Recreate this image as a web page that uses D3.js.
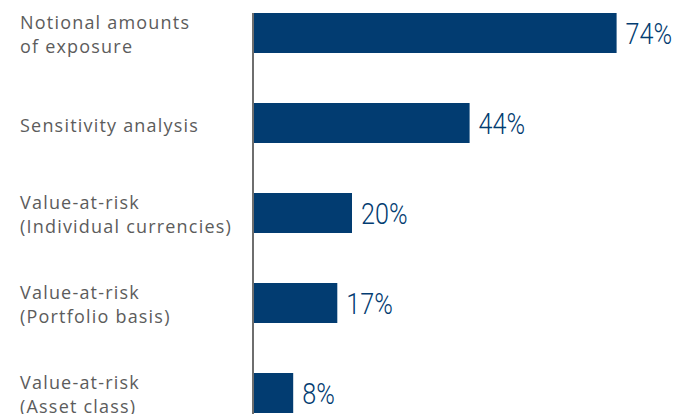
<!DOCTYPE html>
<html>
<head>
<meta charset="utf-8">
<script src="https://cdn.jsdelivr.net/npm/d3@7"></script>
<style>
  html, body { margin: 0; padding: 0; background: #fff; }
  svg { display: block; }
</style>
</head>
<body>
<svg id="chart" width="678" height="414"></svg>
<script>
// Methods used to measure foreign-exchange risk (share of respondents)
const categories = [
  "Notional amounts of exposure",
  "Sensitivity analysis",
  "Value-at-risk (Individual currencies)",
  "Value-at-risk (Portfolio basis)",
  "Value-at-risk (Asset class)"
];
const labelLines = [
  ["Notional amounts", "of exposure"],
  ["Sensitivity analysis"],
  ["Value-at-risk", "(Individual currencies)"],
  ["Value-at-risk", "(Portfolio basis)"],
  ["Value-at-risk", "(Asset class)"]
];
const values = [74, 44, 20, 17, 8];

const W = 678, H = 414;
const axisX = 253;
const svg = d3.select("#chart");

const x = d3.scaleLinear().domain([0, 100]).range([axisX + 1, axisX + 1 + 490]);
const y = d3.scaleBand().domain(categories).range([13, 413])
  .paddingInner(50 / 90).paddingOuter(0);

const navy = "#023C71";

// bars
svg.append("g").selectAll("rect")
  .data(categories)
  .join("rect")
  .attr("x", x(0))
  .attr("y", d => y(d))
  .attr("width", (d, i) => x(values[i]) - x(0))
  .attr("height", y.bandwidth())
  .attr("fill", navy);

// vertical baseline
svg.append("line")
  .attr("x1", axisX).attr("x2", axisX)
  .attr("y1", y(categories[0])).attr("y2", H)
  .attr("stroke", "#6e6e6e").attr("stroke-width", 2);

// category labels
const lab = svg.append("g").selectAll("text")
  .data(categories)
  .join("text")
  .attr("x", 20)
  .attr("font-family", "'Open Sans', 'DejaVu Sans', sans-serif")
  .attr("font-size", 18)
  .attr("letter-spacing", 1.2)
  .attr("fill", "#5c5c5c");
lab.each(function (d, i) {
  const c = y(d) + y.bandwidth() / 2;
  const lines = labelLines[i];
  const t = d3.select(this);
  lines.forEach((ln, j) => {
    const base = lines.length === 1 ? c + 9 : c - 4 + j * 24;
    t.append("tspan").attr("x", 20).attr("y", base).text(ln);
  });
});

// value labels, set in a narrowed light face
svg.append("g").selectAll("text")
  .data(categories)
  .join("text")
  .attr("transform", (d, i) =>
    `translate(${x(values[i]) + 9},${y(d) + y.bandwidth() / 2 + 11}) scale(0.84,1)`)
  .attr("font-family", "Roboto, 'Liberation Sans', sans-serif")
  .attr("font-weight", 300)
  .attr("font-size", 30)
  .attr("fill", navy)
  .text((d, i) => values[i] + "%");
</script>
</body>
</html>
